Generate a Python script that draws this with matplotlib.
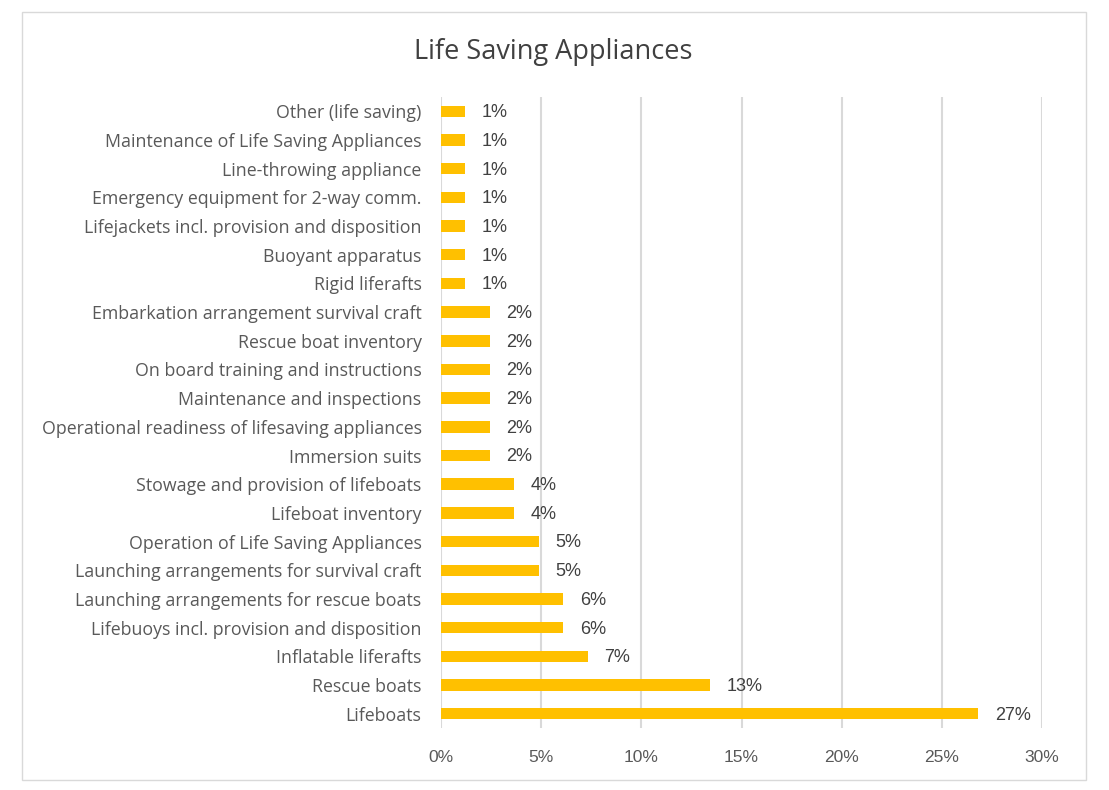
import matplotlib.pyplot as plt
from matplotlib.patches import Rectangle
from matplotlib.ticker import FuncFormatter

# categories from bottom (largest) to top
categories = [
    'Lifeboats',
    'Rescue boats',
    'Inflatable liferafts',
    'Lifebuoys incl. provision and disposition',
    'Launching arrangements for rescue boats',
    'Launching arrangements for survival craft',
    'Operation of Life Saving Appliances',
    'Lifeboat inventory',
    'Stowage and provision of lifeboats',
    'Immersion suits',
    'Operational readiness of lifesaving appliances',
    'Maintenance and inspections',
    'On board training and instructions',
    'Rescue boat inventory',
    'Embarkation arrangement survival craft',
    'Rigid liferafts',
    'Buoyant apparatus',
    'Lifejackets incl. provision and disposition',
    'Emergency equipment for 2-way comm.',
    'Line-throwing appliance',
    'Maintenance of Life Saving Appliances',
    'Other (life saving)',
]
counts = [22, 11, 6, 5, 5, 4, 4, 3, 3, 2, 2, 2, 2, 2, 2, 1, 1, 1, 1, 1, 1, 1]
total = 82
shares = [c / total * 100 for c in counts]

xticks = [0, 5, 10, 15, 20, 25, 30]

plt.rcParams['font.family'] = ['Open Sans', 'DejaVu Sans']
num_font = ['Liberation Sans', 'DejaVu Sans']

fig = plt.figure(figsize=(11.09, 7.90), dpi=100)
ax = fig.add_axes([441 / 1109, 1 - 728 / 790, (1042 - 441) / 1109, (728 - 97) / 790])

ypos = list(range(len(categories)))
ax.barh(ypos, shares, height=0.4, color='#FFC000', zorder=3)
for y, s in zip(ypos, shares):
    ax.annotate('{:.0f}%'.format(s), (s, y), xytext=(12, -1), textcoords='offset points',
                va='center', ha='left', fontsize=13, color='#404040', family=num_font)

ax.set_xlim(0, 30)
ax.set_ylim(-0.5, len(categories) - 0.5)
ax.set_xticks(xticks)
ax.xaxis.set_major_formatter(FuncFormatter(lambda v, p: '{:.0f}%'.format(v)))
ax.set_yticks(ypos)
ax.set_yticklabels(categories, fontsize=12.8)
for lbl in ax.get_xticklabels():
    lbl.set_family(num_font)
    lbl.set_fontsize(12.5)
ax.tick_params(axis='both', length=0, colors='#595959')
ax.tick_params(axis='y', pad=14)
ax.tick_params(axis='x', pad=16)
ax.grid(axis='x', color='#D9D9D9', linewidth=1.5, zorder=0)
for sp in ax.spines.values():
    sp.set_visible(False)

fig.text(553 / 1109, 1 - 52 / 790, 'Life Saving Appliances', ha='center', va='center',
         fontsize=19.5, color='#404040')

fig.patches.append(Rectangle((22 / 1109, 1 - 780 / 790), (1086 - 22) / 1109, (780 - 12) / 790,
                             transform=fig.transFigure, fill=False, edgecolor='#D9D9D9',
                             linewidth=1))

fig.savefig('out.png', dpi=100)
